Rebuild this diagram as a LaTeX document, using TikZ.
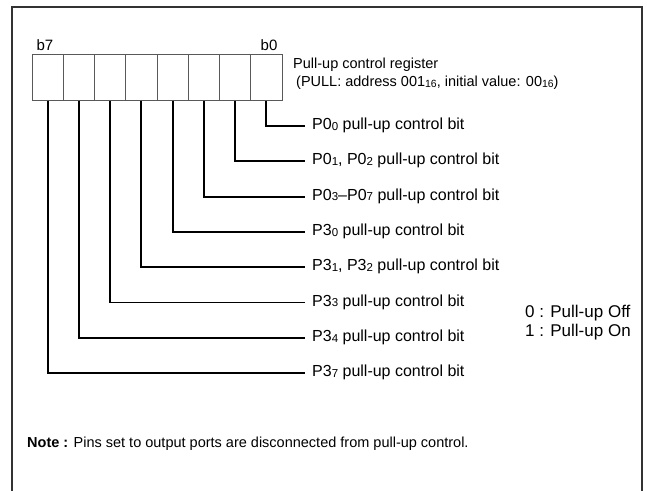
\documentclass[tikz,border=0pt]{standalone}
\usepackage{fontspec}
\setmainfont{Liberation Sans}
\newcommand\lsub[1]{\raisebox{-0.6pt}{\scalebox{0.72}{#1}}}
\begin{document}
\begin{tikzpicture}[x=1pt,y=-1pt,
  frame/.style={draw=black!80,line width=2pt},
  cell/.style={draw=black!65,line width=1pt,minimum width=31.25pt,minimum height=46pt,inner sep=0pt},
  leader/.style={draw=black,line width=1.8pt},
  bitlabel/.style={anchor=west,inner xsep=7pt,inner ysep=0pt,font=\fontsize{16}{19}\selectfont,text height=0.72em,text depth=0pt},
  txt/.style={inner sep=0pt}]
\useasboundingbox (0,0) rectangle (647,490);
\fill[white] (0,0) rectangle (647,490);
\draw[frame] (12,491) -- (12,7) -- (641.5,7) -- (641.5,491);
% register cells (b7 ... b0)
\foreach \k in {0,...,7}{
  \node[cell] (c\k) at ({47.625+(7-\k)*31.25},77) {};
}
\node[txt,font=\fontsize{15}{18}\selectfont] (b7) at (45,45) {b7};
\node[txt,font=\fontsize{15}{18}\selectfont] (b0) at (269,45) {b0};
\node[txt,anchor=west,align=left,font=\fontsize{14.5}{18}\selectfont] (title) at (293,74)
  {Pull-up control register\\\hspace{3pt}(PULL: address 001\lsub{16}, initial value: 00\lsub{16})};
% bit labels
\node[bitlabel] (l0) at (305,126) {P0\lsub{0} pull-up control bit};
\node[bitlabel] (l1) at (305,161.3) {P0\lsub{1}, P0\lsub{2} pull-up control bit};
\node[bitlabel] (l2) at (305,196.6) {P0\lsub{3}--P0\lsub{7} pull-up control bit};
\node[bitlabel] (l3) at (305,231.9) {P3\lsub{0} pull-up control bit};
\node[bitlabel] (l4) at (305,267.2) {P3\lsub{1}, P3\lsub{2} pull-up control bit};
\node[bitlabel] (l5) at (305,302.5) {P3\lsub{3} pull-up control bit};
\node[bitlabel] (l6) at (305,337.8) {P3\lsub{4} pull-up control bit};
\node[bitlabel] (l7) at (305,373.1) {P3\lsub{7} pull-up control bit};
\foreach \k in {0,...,7}{
  \draw[leader] (c\k.south) |- (l\k.west);
}
% legend
\node[txt,anchor=west,align=left,font=\fontsize{17}{19}\selectfont] (legend) at (525,322.5)
  {0 : Pull-up Off\\1 : Pull-up On};
% note
\node[txt,anchor=west,font=\fontsize{14.5}{17}\selectfont] (note) at (27,444)
  {\textbf{Note :} Pins set to output ports are disconnected from pull-up control.};
\end{tikzpicture}
\end{document}
